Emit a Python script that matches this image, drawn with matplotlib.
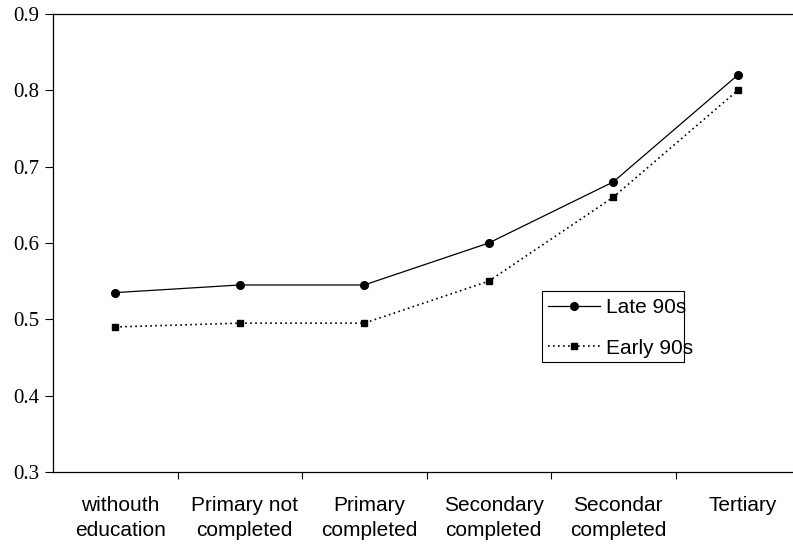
import numpy as np
import matplotlib.pyplot as plt
from matplotlib.patches import Rectangle
from matplotlib.ticker import FixedLocator, NullFormatter
from matplotlib.transforms import ScaledTranslation

categories = ["withouth\neducation", "Primary not\ncompleted", "Primary\ncompleted",
              "Secondary\ncompleted", "Secondar\ncompleted", "Tertiary"]
late_90s = [0.535, 0.545, 0.545, 0.60, 0.68, 0.82]
early_90s = [0.49, 0.495, 0.495, 0.55, 0.66, 0.80]
y_ticks = [0.3, 0.4, 0.5, 0.6, 0.7, 0.8, 0.9]

W, H = 793, 546
fig = plt.figure(figsize=(W / 100, H / 100), dpi=100)
ax = fig.add_axes([53 / W, 1 - 472 / H, 747 / W, 458 / H])

x = np.arange(len(categories))
ax.plot(x, late_90s, color="black", linewidth=0.9, marker="o", markersize=5.5, label="Late 90s")
ax.plot(x, early_90s, color="black", linewidth=1.2, linestyle=(0, (1, 2)), marker="s",
        markersize=5, label="Early 90s")

ax.set_xlim(-0.5, len(categories) - 0.5)
ax.set_ylim(0.3, 0.9)
ax.set_yticks(y_ticks)
ax.set_yticklabels([f"{v:.1f}" for v in y_ticks], family="Liberation Serif", fontsize=15)
ax.tick_params(axis="y", direction="out", length=6, width=0.8, pad=4)

# labels at category centres, tick marks between categories
ax.set_xticks(x)
ax.set_xticklabels(categories, family="Liberation Sans", fontsize=15, linespacing=1.4)
ax.tick_params(axis="x", which="major", length=0, pad=17)
ax.xaxis.set_minor_locator(FixedLocator(x[:-1] + 0.5))
ax.xaxis.set_minor_formatter(NullFormatter())
ax.tick_params(axis="x", which="minor", direction="out", length=5, width=0.8)
shift = ScaledTranslation(5 / 100, 0, fig.dpi_scale_trans)
for lab in ax.get_xticklabels():
    lab.set_transform(lab.get_transform() + shift)

for side in ["left", "bottom", "top"]:
    ax.spines[side].set_linewidth(0.9)
ax.spines["right"].set_visible(False)

# legend without its own frame; the box is narrower than the text, as in the original
leg = ax.legend(loc="center left", bbox_to_anchor=((548 - 53) / 747, 1 - (328 - 14) / 458),
                prop={"family": "Liberation Sans", "size": 15}, frameon=False,
                handlelength=2.5, borderpad=0, labelspacing=1.02,
                handletextpad=0.3, borderaxespad=0)
fig.patches.append(Rectangle((542 / W, 1 - 362 / H), 142 / W, 71 / H, transform=fig.transFigure,
                             facecolor="none", edgecolor="black", linewidth=0.8))

plt.savefig("out.png", dpi=100)
